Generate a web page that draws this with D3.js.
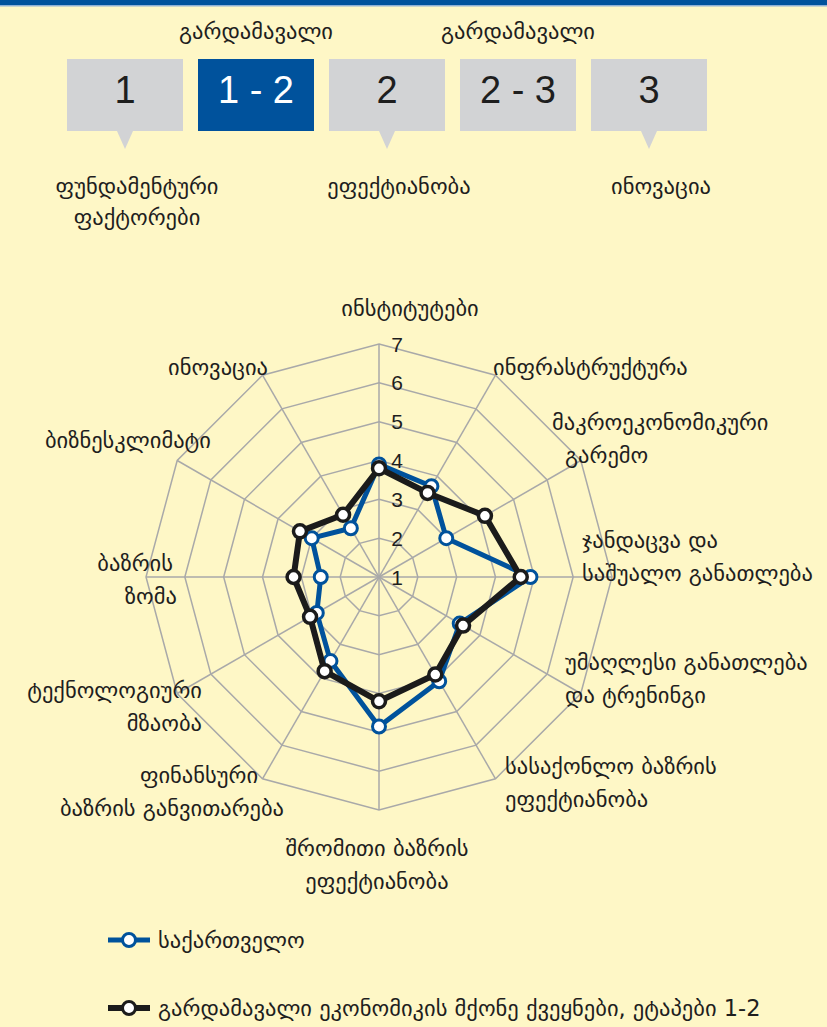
<!DOCTYPE html>
<html>
<head>
<meta charset="utf-8">
<script src="https://cdn.jsdelivr.net/npm/d3@7"></script>
<style>
  html, body { margin: 0; padding: 0; background: #fef7c6; }
  svg { display: block; }
</style>
</head>
<body>
<svg id="chart"></svg>
<script>
// axis names, clockwise from the top
const categories = [
  "ინსტიტუტები",
  "ინფრასტრუქტურა",
  "მაკროეკონომიკური\nგარემო",
  "ჯანდაცვა და\nსაშუალო განათლება",
  "უმაღლესი განათლება\nდა ტრენინგი",
  "სასაქონლო ბაზრის\nეფექტიანობა",
  "შრომითი ბაზრის\nეფექტიანობა",
  "ფინანსური\nბაზრის განვითარება",
  "ტექნოლოგიური\nმზაობა",
  "ბაზრის\nზომა",
  "ბიზნესკლიმატი",
  "ინოვაცია"
];
const georgia = [3.9, 3.7, 3.0, 4.9, 3.4, 4.1, 4.85, 3.5, 2.85, 2.5, 3.0, 2.45];
const transition12 = [3.8, 3.5, 4.15, 4.65, 3.5, 3.9, 4.2, 3.8, 3.05, 3.2, 3.35, 2.85];
const seriesNames = ["საქართველო", "გარდამავალი ეკონომიკის მქონე ქვეყნები, ეტაპები 1-2"];
const tickValues = [1, 2, 3, 4, 5, 6, 7];

const stages = ["1", "1 - 2", "2", "2 - 3", "3"];
const stageTop = ["", "გარდამავალი", "", "გარდამავალი", ""];
const stageBottom = ["ფუნდამენტური\nფაქტორები", "", "ეფექტიანობა", "", "ინოვაცია"];
const activeStage = "1 - 2";

const W = 827, H = 1027;
const geo = "'DejaVu Sans', sans-serif";
const narrow = "'Liberation Sans Narrow', 'Arial Narrow', 'Liberation Sans', Arial, sans-serif";
const colors = { blue: "#00529c", black: "#1b1b1b", grid: "#a9a9a9", box: "#d2d3d5", ink: "#1e1e1e" };
const geoSize = 22.5;

// label placement around the web: x, y of first line, anchor, shift of 2nd line
const labelLayout = [
  [410, 308, "middle", 0],
  [493, 367, "start", 0],
  [552, 422, "start", 13],
  [582, 540, "start", 0],
  [565, 662, "start", 0],
  [505, 766, "start", 0],
  [377, 848, "middle", 0],
  [199, 775, "middle", -27],
  [202, 690, "end", 0],
  [173, 563, "end", 4],
  [211, 440, "end", 0],
  [268, 367, "end", 0]
];

const svg = d3.select("#chart").attr("width", W).attr("height", H);
svg.append("rect").attr("width", W).attr("height", H).attr("fill", "#fef7c6");
svg.append("rect").attr("width", W).attr("height", 5).attr("fill", colors.blue);
svg.append("rect").attr("y", 5).attr("width", W).attr("height", 1.5).attr("fill", "#8db0d6");

// ---- stage boxes ----
const boxX = d3.scaleBand().domain(stages).range([67, 707]).paddingInner(0.1145);
const boxTop = 59, boxH = 72;
const stageG = svg.append("g").selectAll("g").data(stages).join("g")
  .attr("transform", d => `translate(${boxX(d)},0)`);
stageG.append("rect")
  .attr("y", boxTop).attr("width", boxX.bandwidth()).attr("height", boxH)
  .attr("fill", d => d === activeStage ? colors.blue : colors.box);
stageG.filter((d, i) => stageBottom[i])
  .append("path")
  .attr("d", () => {
    const c = boxX.bandwidth() / 2;
    return `M${c - 8},${boxTop + boxH}L${c + 8},${boxTop + boxH}L${c},${boxTop + boxH + 18}Z`;
  })
  .attr("fill", colors.box);
stageG.append("text")
  .attr("x", boxX.bandwidth() / 2).attr("y", 90)
  .attr("text-anchor", "middle").attr("dominant-baseline", "central")
  .attr("font-family", narrow).attr("font-size", 38)
  .attr("fill", d => d === activeStage ? "#fff" : colors.ink)
  .text(d => d);
stageG.append("text")
  .attr("x", boxX.bandwidth() / 2).attr("y", 31)
  .attr("text-anchor", "middle").attr("dominant-baseline", "central")
  .attr("font-family", geo).attr("font-size", geoSize).attr("fill", colors.ink)
  .text((d, i) => stageTop[i]);
stageG.append("text")
  .attr("y", 186)
  .attr("text-anchor", "middle")
  .attr("font-family", geo).attr("font-size", geoSize).attr("fill", colors.ink)
  .selectAll("tspan")
  .data((d, i) => stageBottom[i].split("\n").filter(Boolean))
  .join("tspan")
  .attr("x", boxX.bandwidth() / 2 + 12)
  .attr("dy", (d, i) => i === 0 ? "0.35em" : 31)
  .text(d => d);

// ---- radar ----
const cx = 379, cy = 577;
const r = d3.scaleLinear().domain([1, 7]).range([0, 233]);
const angle = d3.scalePoint().domain(d3.range(categories.length))
  .range([0, 2 * Math.PI * (1 - 1 / categories.length)]);
const radar = svg.append("g").attr("transform", `translate(${cx},${cy})`);

const ring = d3.lineRadial().angle((d, i) => angle(i)).radius(d => r(d)).curve(d3.curveLinearClosed);
radar.append("g").selectAll("path")
  .data(tickValues.filter(v => v > 1))
  .join("path")
  .attr("d", v => ring(categories.map(() => v)))
  .attr("fill", "none").attr("stroke", colors.grid).attr("stroke-width", 1.5);
radar.append("g").selectAll("line")
  .data(categories)
  .join("line")
  .attr("x2", (d, i) => r(7) * Math.sin(angle(i)))
  .attr("y2", (d, i) => -r(7) * Math.cos(angle(i)))
  .attr("stroke", colors.grid).attr("stroke-width", 1.5);

radar.append("g").selectAll("text")
  .data(tickValues)
  .join("text")
  .attr("x", 18).attr("y", v => -r(v))
  .attr("text-anchor", "middle").attr("dominant-baseline", "central")
  .attr("font-family", narrow).attr("font-size", 21).attr("fill", colors.ink)
  .text(v => v);

const drawSeries = (values, color, lineW, ringW) => {
  const g = radar.append("g");
  g.append("path")
    .attr("d", ring(values))
    .attr("fill", "none").attr("stroke", color)
    .attr("stroke-width", lineW).attr("stroke-linejoin", "round");
  g.selectAll("circle").data(values).join("circle")
    .attr("cx", (v, i) => r(v) * Math.sin(angle(i)))
    .attr("cy", (v, i) => -r(v) * Math.cos(angle(i)))
    .attr("r", 6.5)
    .attr("fill", "#fff").attr("stroke", color).attr("stroke-width", ringW);
};
drawSeries(georgia, colors.blue, 5, 3);
drawSeries(transition12, colors.black, 6, 3.5);

// axis labels
svg.append("g").selectAll("text")
  .data(categories)
  .join("text")
  .attr("text-anchor", (d, i) => labelLayout[i][2])
  .attr("font-family", geo).attr("font-size", geoSize).attr("fill", colors.ink)
  .selectAll("tspan")
  .data((d, i) => d.split("\n").map((t, j) => ({ t, j, i })))
  .join("tspan")
  .attr("x", d => labelLayout[d.i][0] + (d.j ? labelLayout[d.i][3] : 0))
  .attr("y", d => labelLayout[d.i][1] + d.j * 33)
  .attr("dy", "0.35em")
  .text(d => d.t);

// ---- legend ----
const legendY = d3.scalePoint().domain(seriesNames).range([940, 1008]);
const legend = svg.append("g").selectAll("g").data(seriesNames).join("g")
  .attr("transform", d => `translate(108,${legendY(d)})`);
legend.append("line")
  .attr("x2", 42)
  .attr("stroke", (d, i) => i ? colors.black : colors.blue)
  .attr("stroke-width", (d, i) => i ? 6 : 5);
legend.append("circle")
  .attr("cx", 21).attr("r", 6.5)
  .attr("fill", "#fff")
  .attr("stroke", (d, i) => i ? colors.black : colors.blue)
  .attr("stroke-width", 3);
legend.append("text")
  .attr("x", 50).attr("dy", "0.35em")
  .attr("font-family", geo).attr("font-size", geoSize).attr("fill", colors.ink)
  .text(d => d);
</script>
</body>
</html>
